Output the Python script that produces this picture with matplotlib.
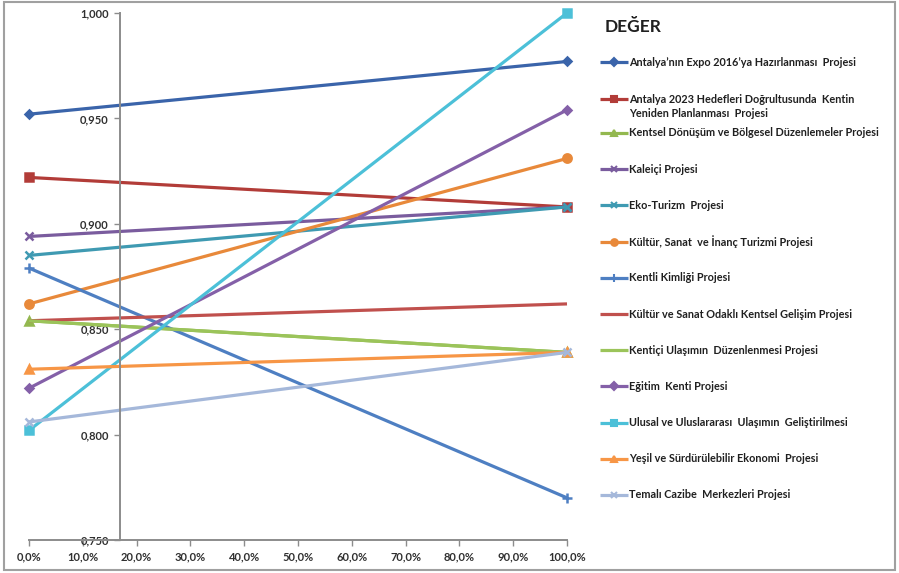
import matplotlib.pyplot as plt
from matplotlib.lines import Line2D
from matplotlib.patches import Rectangle
from matplotlib.ticker import FuncFormatter, MultipleLocator

# ---------------------------------------------------------------------------
# Data (value at 0% and at 100%)
# ---------------------------------------------------------------------------

x_vals = [0.0, 1.0]

labels = [
    "Antalya\u2019nın Expo 2016\u2019ya Hazırlanması  Projesi",
    "Antalya 2023 Hedefleri Doğrultusunda  Kentin\nYeniden Planlanması  Projesi",
    "Kentsel Dönüşüm ve Bölgesel Düzenlemeler Projesi",
    "Kaleiçi Projesi",
    "Eko-Turizm  Projesi",
    "Kültür, Sanat  ve İnanç Turizmi Projesi",
    "Kentli Kimliği Projesi",
    "Kültür ve Sanat Odaklı Kentsel Gelişim Projesi",
    "Kentiçi Ulaşımın  Düzenlenmesi Projesi",
    "Eğitim  Kenti Projesi",
    "Ulusal ve Uluslararası  Ulaşımın  Geliştirilmesi",
    "Yeşil ve Sürdürülebilir Ekonomi  Projesi",
    "Temalı Cazibe  Merkezleri Projesi",
]

expo      = [0.952, 0.977]
antalya23 = [0.922, 0.908]
kentsel   = [0.854, 0.839]
kaleici   = [0.894, 0.908]
eko       = [0.885, 0.908]
kultur    = [0.862, 0.931]
kentli    = [0.879, 0.770]
odakli    = [0.854, 0.862]
kentici   = [0.854, 0.839]
egitim    = [0.822, 0.954]
ulusal    = [0.802, 1.000]
yesil     = [0.831, 0.839]
temali    = [0.806, 0.839]

series = [expo, antalya23, kentsel, kaleici, eko, kultur, kentli,
          odakli, kentici, egitim, ulusal, yesil, temali]

# ---------------------------------------------------------------------------
# Style
# ---------------------------------------------------------------------------

COLORS  = ["#3A64AA", "#B23C38", "#93B84F", "#7A5C9E", "#3F9AB2", "#E8893A",
           "#4E7FC2", "#C0504D", "#9BC45A", "#8460A8", "#4CC0D8", "#F79646",
           "#A5B8DA"]
MARKERS = ["D", "s", "^", "x", "x", "o", "+", None, None, "D", "s", "^", "x"]
MSIZE   = [4.5, 6, 6, 6, 6, 6, 7, 0, 0, 4.5, 6, 6, 6]

plt.rcParams.update({
    "font.family": ["Lato", "DejaVu Sans"],
    "font.weight": "bold",
})

W, H = 899, 573
fig = plt.figure(figsize=(W / 100, H / 100), dpi=100)
ax = fig.add_axes([29 / W, 1 - 540 / H, 538 / W, 527 / H])

for i, ys in enumerate(series):
    ax.plot(x_vals, ys, color=COLORS[i], linewidth=2.3,
            marker=MARKERS[i], markersize=MSIZE[i], markeredgewidth=1.8,
            clip_on=False, solid_capstyle="butt")

ax.set_xlim(0, 1)
ax.set_ylim(0.75, 1.0)
ax.xaxis.set_major_locator(MultipleLocator(0.1))
ax.yaxis.set_major_locator(MultipleLocator(0.05))
ax.xaxis.set_major_formatter(FuncFormatter(lambda v, p: f"{v * 100:.1f}%".replace(".", ",")))
ax.yaxis.set_major_formatter(FuncFormatter(lambda v, p: f"{v:.3f}".replace(".", ",")))

for s in ("top", "right"):
    ax.spines[s].set_visible(False)
ax.spines["left"].set_position(("data", 0.169))
for s in ("left", "bottom"):
    ax.spines[s].set_color("#8C8C8C")
    ax.spines[s].set_linewidth(1.4)
ax.tick_params(axis="both", color="#8C8C8C", length=4, width=1,
               labelsize=8, labelcolor="#303030")
ax.tick_params(axis="y", pad=4)
ax.tick_params(axis="x", pad=4)
ax.set_zorder(1)
ax.patch.set_visible(False)

# ---------------------------------------------------------------------------
# Legend (laid out by hand: Excel style, two-line entry is tighter)
# ---------------------------------------------------------------------------

fig.text(605 / W, 1 - 27 / H, "DEĞER", fontsize=12.5, fontweight="bold",
         color="#202020", ha="left", va="center")

row_y = [62, 99] + [133 + 36.2 * k for k in range(len(series) - 2)]
for i, lab in enumerate(labels):
    yf = 1 - row_y[i] / H
    fig.add_artist(Line2D([600 / W, 628 / W], [yf, yf], color=COLORS[i],
                          linewidth=2.3, solid_capstyle="butt"))
    if MARKERS[i]:
        fig.add_artist(Line2D([614 / W], [yf], color=COLORS[i],
                              marker=MARKERS[i], markersize=MSIZE[i] * 0.8,
                              markeredgewidth=1.5))
    if "\n" in lab:
        fig.text(629 / W, yf + 5 / H, lab, fontsize=7.8, color="#202020",
                 ha="left", va="top", linespacing=1.35)
    else:
        fig.text(629 / W, yf, lab, fontsize=7.8, color="#202020",
                 ha="left", va="center")

# outer frame
fig.patches.append(Rectangle((0.004, 0.006), 0.991, 0.99, transform=fig.transFigure,
                             fill=False, edgecolor="#A0A0A0", linewidth=1.5))

fig.savefig("out.png", dpi=100)
